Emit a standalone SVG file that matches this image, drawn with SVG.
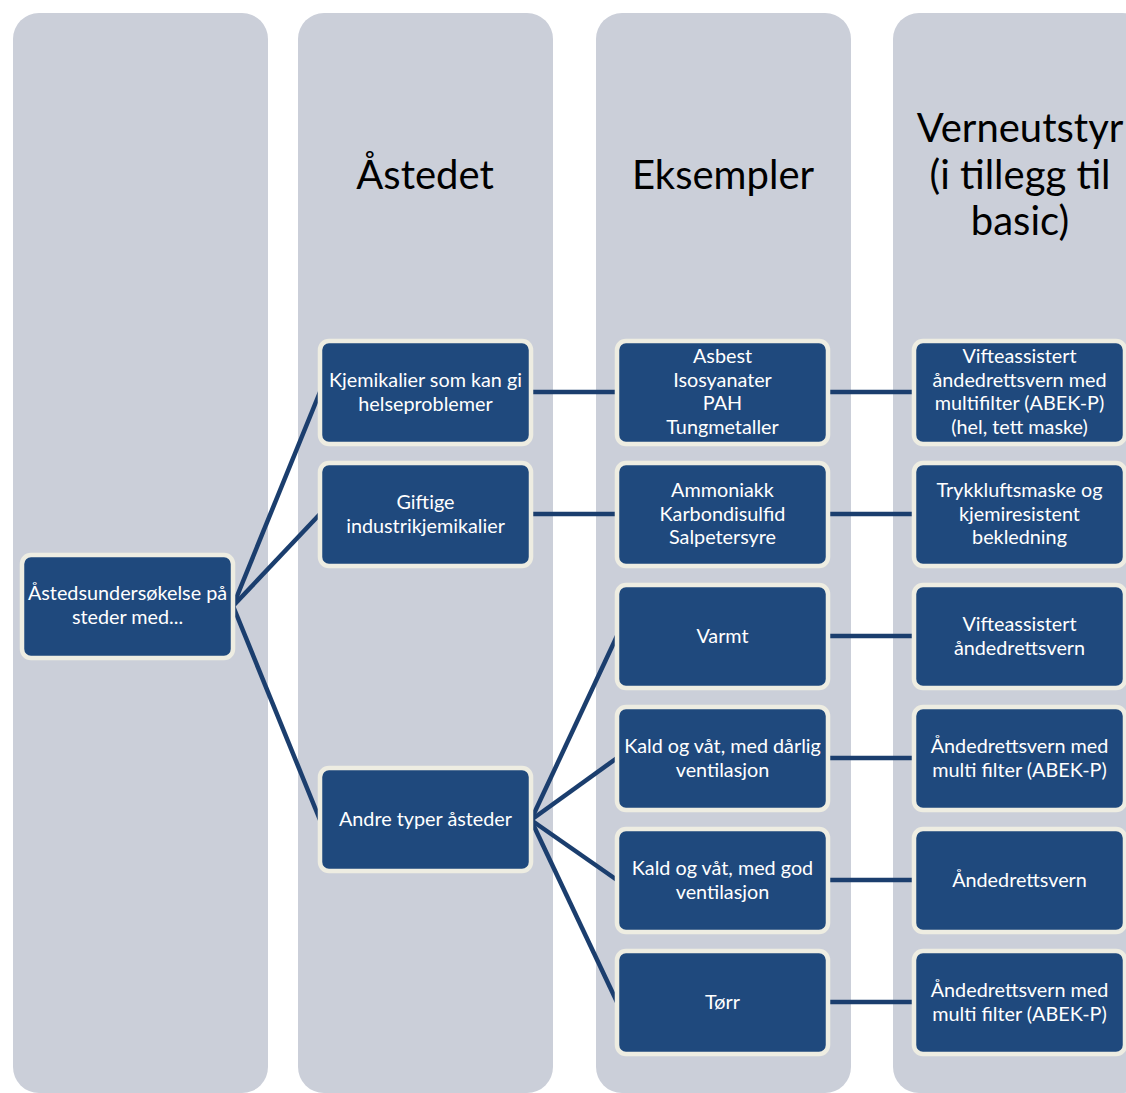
<svg xmlns="http://www.w3.org/2000/svg" width="1126" height="1093" viewBox="0 0 1126 1093">
<style>
.col{fill:#CBCFD9}
.hdr{font-family:Lato,"Liberation Sans",sans-serif;font-size:40px;fill:#000;text-anchor:middle}
.box{fill:#1F497D;stroke:#EEEDE2;stroke-width:4.5}
.t{font-family:Lato,"Liberation Sans",sans-serif;font-size:19.8px;fill:#fff;text-anchor:middle}
.c{stroke:#1B3E6E;stroke-width:4.5;fill:none}
</style>
<rect width="1126" height="1093" fill="#fff"/>
<g id="columns">
<rect class="col" x="13" y="13" width="255" height="1080" rx="26"/>
<rect class="col" x="298" y="13" width="255" height="1080" rx="26"/>
<rect class="col" x="596" y="13" width="255" height="1080" rx="26"/>
<rect class="col" x="893" y="13" width="255" height="1080" rx="26"/>
<text class="hdr" x="425" y="189">Åstedet</text>
<text class="hdr" x="723" y="189">Eksempler</text>
<text class="hdr" x="1020" y="142">Verneutstyr</text>
<text class="hdr" x="1020" y="189">(i tillegg til</text>
<text class="hdr" x="1020" y="235">basic)</text>
</g>
<g id="connectors">
<line class="c" x1="233" y1="606" x2="320" y2="392"/>
<line class="c" x1="233" y1="606" x2="320" y2="514"/>
<line class="c" x1="233" y1="606" x2="320" y2="820"/>
<line class="c" x1="531" y1="392" x2="617" y2="392"/>
<line class="c" x1="531" y1="514" x2="617" y2="514"/>
<line class="c" x1="531" y1="820" x2="617" y2="636"/>
<line class="c" x1="531" y1="820" x2="617" y2="758"/>
<line class="c" x1="531" y1="820" x2="617" y2="880"/>
<line class="c" x1="531" y1="820" x2="617" y2="1002"/>
<line class="c" x1="828" y1="392" x2="914" y2="392"/>
<line class="c" x1="828" y1="514" x2="914" y2="514"/>
<line class="c" x1="828" y1="636" x2="914" y2="636"/>
<line class="c" x1="828" y1="758" x2="914" y2="758"/>
<line class="c" x1="828" y1="880" x2="914" y2="880"/>
<line class="c" x1="828" y1="1002" x2="914" y2="1002"/>
</g>
<g id="root"><rect class="box" x="22" y="555" width="211" height="103" rx="9"/>
<text class="t" x="127.5" y="600">Åstedsundersøkelse på</text><text class="t" x="127.5" y="624">steder med...</text></g>
<g id="n-kjemikalier"><rect class="box" x="320" y="341" width="211" height="103" rx="9"/>
<text class="t" x="425.5" y="387">Kjemikalier som kan gi</text><text class="t" x="425.5" y="411">helseproblemer</text></g>
<g id="n-giftige"><rect class="box" x="320" y="463" width="211" height="103" rx="9"/>
<text class="t" x="425.5" y="509">Giftige</text><text class="t" x="425.5" y="533">industrikjemikalier</text></g>
<g id="n-andre"><rect class="box" x="320" y="768" width="211" height="103" rx="9"/>
<text class="t" x="425.5" y="826">Andre typer åsteder</text></g>
<g id="n-asbest"><rect class="box" x="617" y="341" width="211" height="103" rx="9"/>
<text class="t" x="722.5" y="363">Asbest</text><text class="t" x="722.5" y="387">Isosyanater</text><text class="t" x="722.5" y="410">PAH</text><text class="t" x="722.5" y="434">Tungmetaller</text></g>
<g id="n-ammoniakk"><rect class="box" x="617" y="463" width="211" height="103" rx="9"/>
<text class="t" x="722.5" y="497">Ammoniakk</text><text class="t" x="722.5" y="521">Karbondisulfid</text><text class="t" x="722.5" y="544">Salpetersyre</text></g>
<g id="n-varmt"><rect class="box" x="617" y="585" width="211" height="103" rx="9"/>
<text class="t" x="722.5" y="643">Varmt</text></g>
<g id="n-kald-darlig"><rect class="box" x="617" y="707" width="211" height="103" rx="9"/>
<text class="t" x="722.5" y="753">Kald og våt, med dårlig</text><text class="t" x="722.5" y="777">ventilasjon</text></g>
<g id="n-kald-god"><rect class="box" x="617" y="829" width="211" height="103" rx="9"/>
<text class="t" x="722.5" y="875">Kald og våt, med god</text><text class="t" x="722.5" y="899">ventilasjon</text></g>
<g id="n-torr"><rect class="box" x="617" y="951" width="211" height="103" rx="9"/>
<text class="t" x="722.5" y="1009">Tørr</text></g>
<g id="v-vifte-multi"><rect class="box" x="914" y="341" width="211" height="103" rx="9"/>
<text class="t" x="1019.5" y="363">Vifteassistert</text><text class="t" x="1019.5" y="387">åndedrettsvern med</text><text class="t" x="1019.5" y="410">multifilter (ABEK-P)</text><text class="t" x="1019.5" y="434">(hel, tett maske)</text></g>
<g id="v-trykkluft"><rect class="box" x="914" y="463" width="211" height="103" rx="9"/>
<text class="t" x="1019.5" y="497">Trykkluftsmaske og</text><text class="t" x="1019.5" y="521">kjemiresistent</text><text class="t" x="1019.5" y="544">bekledning</text></g>
<g id="v-vifte"><rect class="box" x="914" y="585" width="211" height="103" rx="9"/>
<text class="t" x="1019.5" y="631">Vifteassistert</text><text class="t" x="1019.5" y="655">åndedrettsvern</text></g>
<g id="v-multi1"><rect class="box" x="914" y="707" width="211" height="103" rx="9"/>
<text class="t" x="1019.5" y="753">Åndedrettsvern med</text><text class="t" x="1019.5" y="777">multi filter (ABEK-P)</text></g>
<g id="v-aande"><rect class="box" x="914" y="829" width="211" height="103" rx="9"/>
<text class="t" x="1019.5" y="887">Åndedrettsvern</text></g>
<g id="v-multi2"><rect class="box" x="914" y="951" width="211" height="103" rx="9"/>
<text class="t" x="1019.5" y="997">Åndedrettsvern med</text><text class="t" x="1019.5" y="1021">multi filter (ABEK-P)</text></g>
</svg>
